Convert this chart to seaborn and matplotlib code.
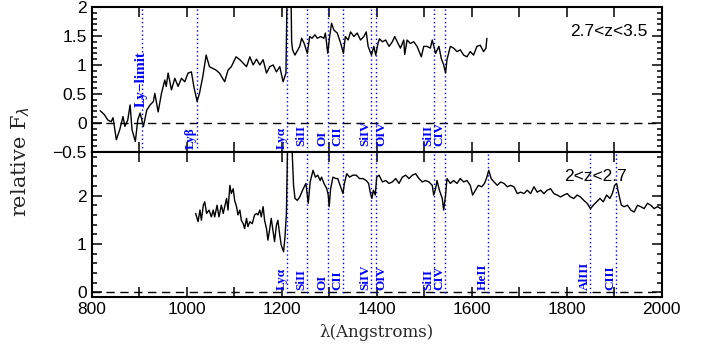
import matplotlib
matplotlib.use("Agg")
import matplotlib.pyplot as plt
from matplotlib.ticker import MultipleLocator, FuncFormatter
import seaborn as sns

# composite spectrum, 2.7 < z < 3.5
wave_hi = [818, 827, 834, 841, 845, 852, 859, 866, 870, 876, 881, 885, 892, 897,
           902, 909, 916, 923, 930, 933, 940, 947, 954, 957, 961, 968, 975, 982,
           989, 996, 1003, 1010, 1015, 1022, 1027, 1034, 1041, 1048, 1055, 1062,
           1069, 1080, 1087, 1094, 1104, 1112, 1126, 1133, 1140, 1147, 1154, 1161,
           1168, 1175, 1182, 1189, 1196, 1203, 1209, 1212, 1219, 1221, 1223, 1228,
           1234, 1238, 1242, 1247, 1254, 1259, 1264, 1270, 1275, 1282, 1289, 1292,
           1297, 1301, 1305, 1310, 1317, 1324, 1330, 1334, 1340, 1345, 1352, 1359,
           1366, 1373, 1378, 1382, 1389, 1394, 1398, 1403, 1406, 1412, 1419, 1426,
           1433, 1438, 1445, 1450, 1457, 1459, 1464, 1471, 1478, 1485, 1494, 1499,
           1506, 1513, 1517, 1524, 1531, 1536, 1541, 1545, 1548, 1555, 1562, 1569,
           1576, 1583, 1590, 1597, 1604, 1611, 1618, 1625, 1630, 1632]
flux_hi = [0.21, 0.14, 0.05, 0.02, 0.09, -0.29, -0.12, 0.11, -0.06, 0.05, 0.31, -0.12,
           -0.32, 0.05, 0.17, -0.06, 0.22, 0.31, 0.37, 0.51, 0.19, 0.51, 0.74, 0.63,
           0.86, 0.57, 0.77, 0.63, 0.77, 0.71, 0.86, 0.88, 0.63, 0.37, 0.51, 0.80,
           1.17, 0.97, 0.94, 0.91, 0.86, 0.71, 0.91, 0.97, 1.14, 1.09, 0.97, 1.14,
           1.00, 1.10, 1.00, 1.09, 0.86, 0.97, 1.00, 0.88, 0.97, 0.71, 0.86, 2.60,
           2.60, 1.40, 1.26, 1.17, 1.26, 1.32, 1.46, 1.38, 1.20, 1.49, 1.46, 1.52,
           1.46, 1.49, 1.46, 1.55, 1.20, 1.49, 1.72, 1.60, 1.55, 1.38, 1.20, 1.49,
           1.43, 1.57, 1.49, 1.55, 1.43, 1.49, 1.57, 1.32, 1.17, 1.32, 1.17, 1.38,
           1.45, 1.40, 1.43, 1.32, 1.40, 1.49, 1.37, 1.29, 1.43, 1.18, 1.43, 1.37,
           1.40, 1.32, 1.14, 1.32, 1.32, 1.29, 1.43, 1.20, 1.32, 1.11, 1.00, 0.86,
           1.09, 1.32, 1.29, 1.23, 1.26, 1.17, 1.14, 1.23, 1.17, 1.32, 1.34, 1.23,
           1.29, 1.46]

# composite spectrum, 2 < z < 2.7
wave_lo = [1019, 1024, 1028, 1031, 1035, 1038, 1042, 1047, 1052, 1056, 1059, 1064,
           1068, 1073, 1077, 1080, 1084, 1087, 1091, 1094, 1098, 1101, 1105, 1108,
           1112, 1115, 1119, 1122, 1126, 1129, 1133, 1138, 1143, 1147, 1150, 1154,
           1157, 1161, 1164, 1168, 1171, 1175, 1178, 1182, 1185, 1189, 1192, 1196,
           1199, 1204, 1207, 1210, 1213, 1220, 1225, 1228, 1233, 1238, 1244, 1251,
           1256, 1260, 1266, 1271, 1276, 1281, 1284, 1289, 1295, 1298, 1300, 1303,
           1308, 1314, 1318, 1323, 1329, 1332, 1337, 1343, 1350, 1357, 1364, 1371,
           1378, 1383, 1387, 1390, 1393, 1397, 1400, 1405, 1412, 1419, 1426, 1433,
           1440, 1447, 1454, 1461, 1468, 1475, 1482, 1489, 1496, 1503, 1510, 1517,
           1520, 1524, 1527, 1532, 1538, 1541, 1545, 1548, 1555, 1562, 1569, 1576,
           1583, 1590, 1597, 1602, 1608, 1614, 1621, 1627, 1632, 1636, 1641, 1647,
           1654, 1661, 1668, 1675, 1682, 1689, 1696, 1703, 1710, 1717, 1724, 1731,
           1738, 1745, 1752, 1759, 1766, 1773, 1780, 1787, 1794, 1801, 1808, 1815,
           1822, 1829, 1836, 1843, 1850, 1856, 1863, 1870, 1877, 1884, 1891, 1896,
           1901, 1905, 1910, 1915, 1921, 1928, 1935, 1942, 1949, 1956, 1963, 1970,
           1977, 1984, 1991, 1998]
flux_lo = [1.63, 1.46, 1.70, 1.49, 1.80, 1.87, 1.63, 1.70, 1.56, 1.70, 1.56, 1.80,
           1.56, 1.80, 1.63, 1.77, 1.94, 1.70, 2.21, 2.04, 2.14, 1.90, 1.77, 1.60,
           1.70, 1.49, 1.42, 1.32, 1.53, 1.36, 1.46, 1.42, 1.60, 1.63, 1.60, 1.70,
           1.56, 1.77, 1.49, 1.32, 1.08, 1.32, 1.53, 1.25, 1.05, 1.39, 1.49, 1.18,
           0.98, 0.84, 1.15, 1.63, 3.40, 3.40, 2.21, 1.94, 1.90, 1.97, 2.11, 2.25,
           1.84, 2.28, 2.52, 2.38, 2.42, 2.31, 2.38, 2.25, 2.14, 2.01, 1.77, 2.14,
           2.38, 2.35, 2.35, 2.21, 2.04, 2.25, 2.45, 2.38, 2.42, 2.42, 2.35, 2.35,
           2.31, 2.25, 2.04, 1.94, 2.11, 2.01, 2.38, 2.42, 2.28, 2.31, 2.25, 2.28,
           2.35, 2.25, 2.38, 2.42, 2.35, 2.42, 2.45, 2.35, 2.28, 2.31, 2.28, 2.21,
           2.01, 2.14, 2.31, 2.11, 1.94, 1.70, 2.01, 2.35, 2.25, 2.31, 2.25, 2.35,
           2.28, 2.31, 2.21, 2.01, 2.11, 2.21, 2.18, 2.25, 2.38, 2.52, 2.35, 2.28,
           2.21, 2.28, 2.25, 2.18, 2.21, 2.18, 2.04, 2.07, 2.04, 2.11, 2.04, 2.18,
           2.07, 2.11, 2.04, 2.11, 2.14, 2.04, 2.01, 1.97, 2.01, 2.04, 1.97, 1.94,
           2.01, 1.97, 1.90, 1.84, 1.73, 1.80, 1.87, 1.94, 1.87, 2.01, 1.94, 2.04,
           2.21, 2.25, 2.01, 1.80, 1.77, 1.80, 1.70, 1.66, 1.80, 1.77, 1.73, 1.84,
           1.80, 1.73, 1.77, 1.73]

# line identifications (positions as drawn in the figure)
top_names = ["Ly\u03b2", "Ly\u03b1", "SiII", "OI", "CII", "SiIV", "OIV", "SiII", "CIV"]
top_waves = [1021, 1211, 1254, 1297, 1329, 1388, 1398, 1521, 1544]
bot_names = ["Ly\u03b1", "SiII", "OI", "CII", "SiIV", "OIV", "SiII", "CIV",
             "HeII", "AlIII", "CIII"]
bot_waves = [1211, 1254, 1297, 1329, 1388, 1398, 1521, 1544, 1635, 1850, 1903]
lylimit_wave = 906

SERIF = "DejaVu Serif"
LABEL_SERIF = "Liberation Serif"
SANS = "Liberation Sans"
DOTS = (0, (1, 2))


def minus_fmt(v, pos):
    return "{:g}".format(v).replace("-", "\u2212")


def style_axis(ax):
    for sp in ax.spines.values():
        sp.set_linewidth(1.5)
        sp.set_color("black")
    ax.xaxis.set_major_locator(MultipleLocator(200))
    ax.xaxis.set_minor_locator(MultipleLocator(100))
    ax.tick_params(which="both", direction="in", top=True, right=True,
                   width=1.1, colors="black", labelsize=12.5)
    ax.tick_params(which="major", length=7)
    ax.tick_params(which="minor", length=3.5)
    ax.tick_params(axis="x", which="minor", length=7)
    ax.yaxis.set_major_formatter(FuncFormatter(minus_fmt))
    ax.axhline(0, color="black", lw=1, ls=(0, (6, 4)), zorder=1)
    ax.set_xlabel("")
    ax.set_ylabel("")


def line_label(ax, w, y, name):
    # OIV sits on the red side of its line, everything else on the blue side
    if name == "OIV":
        x, ha = w - 1, "left"
    else:
        x, ha = w + 1, "right"
    ax.text(x, y, name, rotation=90, ha=ha, va="bottom", color="blue",
            family=LABEL_SERIF, fontweight="bold", fontsize=9.5)


def main():
    sns.set_style("ticks")
    plt.rcParams["font.family"] = [SANS, "DejaVu Sans"]

    fig, (ax1, ax2) = plt.subplots(2, 1, sharex=True, figsize=(7.05, 3.48), dpi=100)
    fig.subplots_adjust(left=0.130, right=0.9386, top=0.980, bottom=0.147, hspace=0)

    # top panel
    sns.lineplot(x=wave_hi, y=flux_hi, ax=ax1, color="black", lw=1.0,
                 estimator=None, sort=False, zorder=3)
    ax1.set_ylim(-0.5, 2.0)
    ax1.yaxis.set_major_locator(MultipleLocator(0.5))
    ax1.yaxis.set_minor_locator(MultipleLocator(0.1))
    style_axis(ax1)

    ax1.axvline(lylimit_wave, color="blue", ls=DOTS, lw=1.0, zorder=2)
    ax1.text(lylimit_wave - 2, 0.28, "Ly\u2212limit", rotation=90, ha="center",
             va="bottom", color="blue", family=LABEL_SERIF, fontweight="bold",
             fontsize=11)
    for name, w in zip(top_names, top_waves):
        ax1.axvline(w, color="blue", ls=DOTS, lw=1.0, zorder=2)
        y0 = -0.45 if name.startswith("Ly") else -0.39
        line_label(ax1, w, y0, name)
    ax1.text(1970, 1.57, "2.7<z<3.5", ha="right", va="center",
             fontsize=12.5, color="black")

    # bottom panel
    sns.lineplot(x=wave_lo, y=flux_lo, ax=ax2, color="black", lw=1.0,
                 estimator=None, sort=False, zorder=3)
    ax2.set_ylim(-0.09, 2.9)
    ax2.yaxis.set_major_locator(MultipleLocator(1))
    ax2.yaxis.set_minor_locator(MultipleLocator(0.2))
    style_axis(ax2)

    for name, w in zip(bot_names, bot_waves):
        ax2.axvline(w, color="blue", ls=DOTS, lw=1.0, zorder=2)
        line_label(ax2, w, 0.05, name)
    ax2.text(1926, 2.39, "2<z<2.7", ha="right", va="center",
             fontsize=12.5, color="black")

    ax2.set_xlim(800, 2000)
    ax2.set_xlabel("\u03bb(Angstroms)", family=SERIF, fontsize=12, labelpad=5)
    fig.text(0.029, 0.537, "relative F$_\\lambda$", rotation=90, ha="center",
             va="center", family=SERIF, fontsize=15)

    fig.savefig("out.png", dpi=100)
    plt.close(fig)


if __name__ == "__main__":
    main()
